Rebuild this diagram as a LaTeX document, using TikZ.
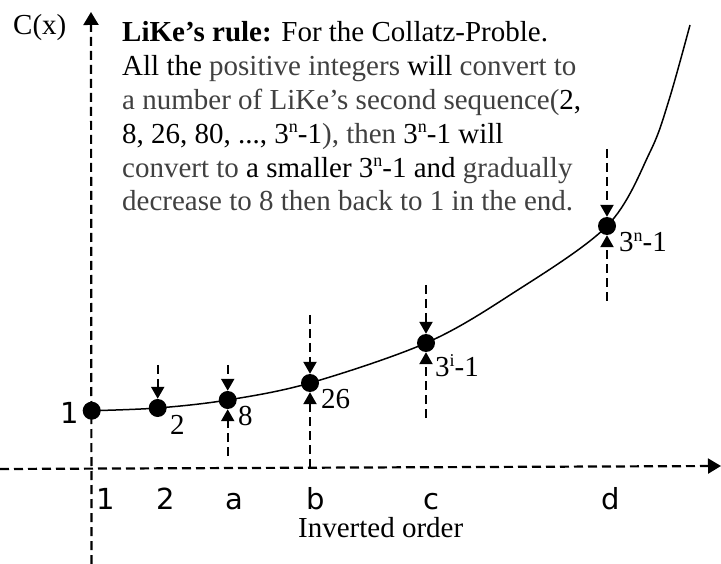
\documentclass[tikz,border=0pt]{standalone}
\usepackage{fontspec}
\setmainfont{Liberation Serif}
\newfontfamily\dejavu{DejaVu Sans}
\usetikzlibrary{arrows.meta}
\definecolor{txtg}{rgb}{0.25,0.25,0.25}
\newcommand{\gry}[1]{\textcolor{txtg}{#1}}
\newcommand{\mysup}[1]{\raisebox{10.5pt}{\fontsize{18}{18}\selectfont #1}}
\begin{document}
\begin{tikzpicture}[x=1pt,y=-1pt,
  guide/.style={line width=2.2pt,dash pattern=on 9pt off 5pt},
  tipA/.style={-{Triangle[length=12pt,width=13pt]}},
  dot/.style={circle,fill=black,inner sep=0pt,minimum size=18pt},
  ser/.style={font=\fontsize{29}{34}\selectfont,inner sep=0pt,anchor=base west},
  san/.style={font=\dejavu\fontsize{29}{34}\selectfont,inner sep=0pt,anchor=base west}]
\useasboundingbox (0,0) rectangle (721,564);

% axes
\coordinate (xs) at (0,469);
\coordinate (xe) at (721,466);
\coordinate (ys) at (91.5,564);
\coordinate (ye) at (91,12);
\draw[guide,-{Triangle[length=13pt,width=15pt]}] (xs) -- (xe);
\draw[guide,-{Triangle[length=13pt,width=15pt]}] (ys) -- (ye);

% curve
\draw[line width=1.5pt] plot[smooth,tension=0.55] coordinates {
 (91.7,410.7) (157.7,408) (227.7,400) (310,383) (426,343) (510,295)
 (607,226) (650,152) (669,100) (690,25)};

% points
\node[dot] (p1) at (91.7,410.7) {};
\node[dot] (p2) at (157.7,408) {};
\node[dot] (p8) at (227.7,400) {};
\node[dot] (p26) at (310,383) {};
\node[dot] (pi) at (426,343) {};
\node[dot] (pn) at (607,226) {};

% guide arrows
\coordinate (a2) at (157.7,365);
\coordinate (a8) at (227.7,365);
\coordinate (b8) at (227.7,456);
\coordinate (a26) at (310,315);
\coordinate (b26) at (310,468);
\coordinate (ai) at (426,285);
\coordinate (bi) at (426,418);
\coordinate (an) at (607,149);
\coordinate (bn) at (607,301);
\draw[guide,tipA] (a2) -- (p2.north);
\draw[guide,tipA] (a8) -- (p8.north);
\draw[guide,tipA] (b8) -- (p8.south);
\draw[guide,tipA] (a26) -- (p26.north);
\draw[guide,tipA] (b26) -- (p26.south);
\draw[guide,tipA] (ai) -- (pi.north);
\draw[guide,tipA] (bi) -- (pi.south);
\draw[guide,tipA] (an) -- (pn.north);
\draw[guide,tipA] (bn) -- (pn.south);

% point labels
\node[san] (l1) at (60,423) {1};
\node[ser] (l2) at (170,435) {2};
\node[ser] (l8) at (238,425) {8};
\node[ser] (l26) at (321,408) {26};
\node[ser] (li) at (435,377) {3\mysup{i}-1};
\node[ser] (ln) at (619,252) {3\mysup{n}-1};

% axis labels
\node[san] (x1) at (96,509) {1};
\node[san] (x2) at (156,509) {2};
\node[san] (xa) at (225,509) {a};
\node[san] (xb) at (306,509) {b};
\node[san] (xc) at (423,509) {c};
\node[san] (xd) at (601,509) {d};
\node[ser] (xt) at (298,537) {Inverted order};
\node[ser] (yt) at (13,35) {C(x)};

% rule text
\node[ser] (t1) at (122,42) {\textbf{LiKe’s rule:} For the Collatz-Proble.};
\node[ser] (t2) at (122,75.8) {All the \gry{positive integers} will \gry{convert to}};
\node[ser] (t3) at (122,109.6) {\gry{a number of LiKe’s second sequence(}2,};
\node[ser] (t4) at (122,143.4) {8, 26, 80, ..., 3\mysup{n}-1\gry{), then} 3\mysup{n}-1 will};
\node[ser] (t5) at (122,177.2) {\gry{convert to} a smaller 3\mysup{n}-1 and \gry{gradually}};
\node[ser] (t6) at (122,211) {\gry{decrease to 8 then back to 1 in the end.}};
\end{tikzpicture}
\end{document}
